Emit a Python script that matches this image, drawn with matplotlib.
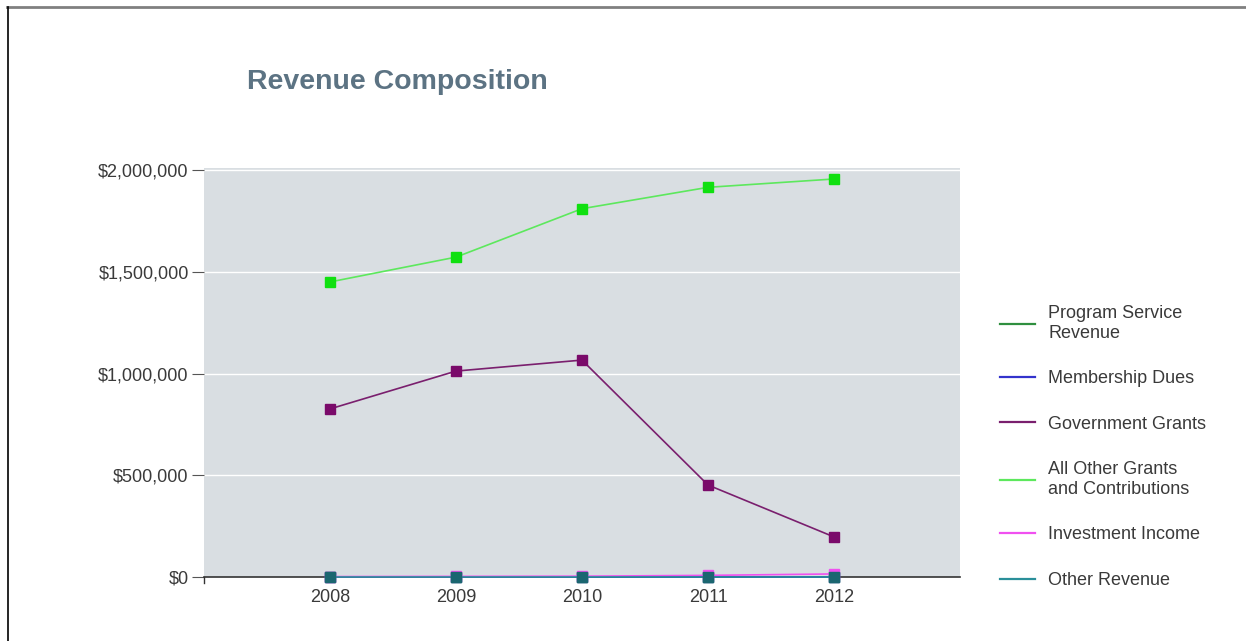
import matplotlib
matplotlib.use("Agg")
import matplotlib.pyplot as plt
from matplotlib.lines import Line2D
from matplotlib.ticker import FuncFormatter

plt.rcParams['font.family'] = ['Liberation Sans', 'DejaVu Sans']

years = [2008, 2009, 2010, 2011, 2012]
series_names = ["Program Service\nRevenue", "Membership Dues", "Government Grants",
                "All Other Grants\nand Contributions", "Investment Income", "Other Revenue"]
program_service = [0, 0, 0, 0, 0]
membership_dues = [0, 0, 0, 0, 0]
government_grants = [826000, 1012000, 1066000, 452000, 197000]
other_grants = [1450000, 1572000, 1810000, 1915000, 1956000]
investment_income = [2000, 3000, 4000, 8000, 15000]
other_revenue = [0, 0, 0, 0, 0]
y_ticks = [0, 500000, 1000000, 1500000, 2000000]

line_colors = ["#2f8f3f", "#3333cc", "#7a1f6e", "#5de85d", "#f050f0", "#2a8f9a"]
marker_colors = ["#2f8f3f", "#3333cc", "#7a0a6a", "#10e010", "#f050f0", "#1b6670"]
data = [program_service, membership_dues, government_grants, other_grants,
        investment_income, other_revenue]

fig = plt.figure(figsize=(12.46, 6.41), dpi=100)
ax = fig.add_axes([204/1246, 64/641, 756/1246, 409/641])
ax.set_facecolor("#d9dee2")

for vals, lc, mc in zip(data, line_colors, marker_colors):
    ax.plot(years, vals, color=lc, lw=1.2, marker='s', markersize=7.5,
            markerfacecolor=mc, markeredgecolor=mc, zorder=3, clip_on=False)

ax.set_xlim(2007, 2013)
ax.set_ylim(0, 2010000)
ax.set_yticks(y_ticks)
ax.yaxis.set_major_formatter(FuncFormatter(lambda v, p: "${:,.0f}".format(v)))
ax.set_xticks(years)
ax.set_xticklabels([str(y) for y in years])
ax.grid(axis='y', color='white', lw=1)
ax.set_axisbelow(True)
for s in ['top', 'right', 'left']:
    ax.spines[s].set_visible(False)
ax.spines['bottom'].set_color('#333333')
ax.spines['bottom'].set_linewidth(1.2)
ax.tick_params(axis='y', length=9, color='#555555', labelsize=13, labelcolor='#3a3a3a', pad=2)
ax.tick_params(axis='x', length=0, labelsize=13, labelcolor='#3a3a3a', pad=9)
ax.axvline(2007, ymin=-0.015, ymax=0, color='#333333', lw=1, clip_on=False)

handles = [Line2D([0], [0], color=c, lw=1.6) for c in line_colors]
leg = fig.legend(handles, series_names, loc='center left',
                 bbox_to_anchor=(993/1246, 1 - 447/641), frameon=False,
                 fontsize=13, handlelength=1.95, handletextpad=0.7,
                 labelspacing=1.58, borderaxespad=0)
for t in leg.get_texts():
    t.set_color('#3a3a3a')

fig.text(247/1246, 1 - 82/641, "Revenue Composition", fontsize=20.5, fontweight='bold',
         color='#5c7383', va='center', ha='left')

# figure border (top and left)
fig.add_artist(Line2D([7/1246, 1], [1 - 7/641, 1 - 7/641], color='#808080', lw=2,
                      transform=fig.transFigure))
fig.add_artist(Line2D([8/1246, 8/1246], [0, 1 - 7/641], color='black', lw=1.2,
                      transform=fig.transFigure))

fig.savefig("out.png", dpi=100)
